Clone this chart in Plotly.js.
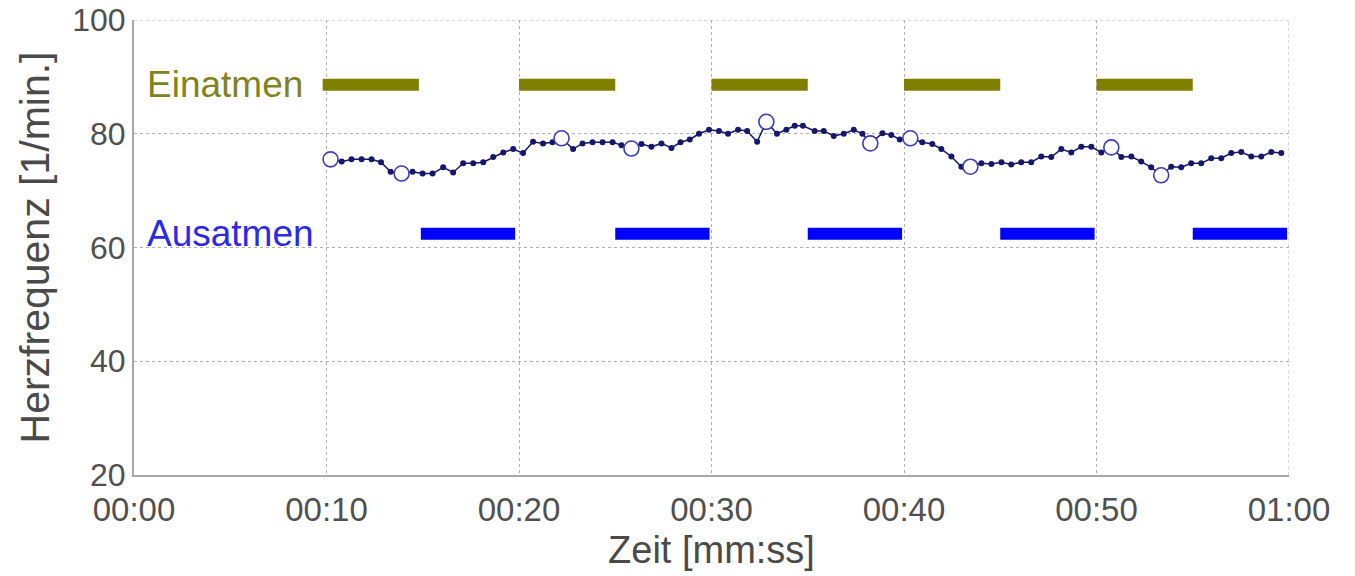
<!DOCTYPE html>
<html>
<head>
<meta charset="utf-8">
<script src="https://cdn.plot.ly/plotly-3.0.1.min.js"></script>
<style>html,body{margin:0;padding:0;background:#fff;}#chart{width:1355px;height:576px;}</style>
</head>
<body>
<div id="chart"></div>
<script>
// Heart rate samples (time in s, value in 1/min)
const hrTime = [10.21,10.79,11.30,11.82,12.34,12.83,13.33,13.90,14.47,14.99,15.51,16.06,16.58,17.10,17.62,18.14,18.66,19.18,19.70,20.21,20.73,21.25,21.74,22.21,22.81,23.30,23.82,24.34,24.86,25.32,25.84,26.36,26.88,27.40,27.92,28.39,28.87,29.35,29.87,30.39,30.86,31.38,31.85,32.37,32.85,33.40,33.89,34.32,34.75,35.36,35.83,36.35,36.87,37.39,37.84,38.25,38.88,39.34,39.78,40.33,40.95,41.47,41.94,42.46,42.98,43.45,44.02,44.54,45.06,45.57,46.09,46.61,47.13,47.65,48.17,48.69,49.21,49.73,50.25,50.77,51.29,51.81,52.32,52.84,53.36,53.88,54.40,54.92,55.44,55.96,56.48,57.00,57.52,58.04,58.56,59.08,59.60];
const hrValue = [75.5,75.1,75.5,75.5,75.5,75.0,73.3,73.0,73.3,73.0,73.0,74.1,73.2,74.8,74.8,75.0,75.9,76.7,77.3,76.6,78.6,78.3,78.5,79.2,77.3,78.3,78.5,78.5,78.5,78.0,77.4,78.2,77.7,78.3,77.5,78.5,79.0,80.0,80.7,80.5,80.0,80.7,80.5,78.6,82.1,80.0,80.7,81.4,81.4,80.5,80.5,79.6,80.0,80.7,80.0,78.3,80.1,79.8,79.0,79.2,78.5,78.2,77.3,76.0,74.2,74.2,74.8,74.7,75.0,74.6,75.0,75.0,76.0,75.9,77.3,76.7,77.7,77.7,76.7,77.6,75.9,76.0,75.1,74.1,72.7,74.2,74.1,74.8,74.8,75.7,75.7,76.6,76.8,76.0,76.0,76.8,76.6];

// Highlighted points (open circles)
const markTime = [10.21,13.90,22.21,25.84,32.85,38.25,40.33,43.45,50.77,53.36];
const markValue = [75.5,73.0,79.2,77.4,82.1,78.3,79.2,74.2,77.6,72.7];

// Breathing phases (start/end in s)
const inhaleStart = [9.8,20,30,40,50];
const inhaleEnd   = [14.8,25,35,45,55];
const exhaleStart = [14.9,25,35,45,55];
const exhaleEnd   = [19.8,29.9,39.9,49.9,59.9];
const inhaleLevel = 88.6;
const exhaleLevel = 62.4;

const xTickVals = [0,10,20,30,40,50,60];
const xTickText = ['00:00','00:10','00:20','00:30','00:40','00:50','01:00'];
const yTickVals = [20,40,60,80,100];

function segs(starts, ends, level) {
  const x = [], y = [];
  for (let i = 0; i < starts.length; i++) {
    x.push(starts[i], ends[i], null);
    y.push(level, level, null);
  }
  return {x, y};
}
const inh = segs(inhaleStart, inhaleEnd, inhaleLevel);
const exh = segs(exhaleStart, exhaleEnd, exhaleLevel);

const FONT = 'Liberation Sans, Arial, sans-serif';

const traces = [
  {x: inh.x, y: inh.y, mode: 'lines', line: {color: '#7f7f00', width: 12}, hoverinfo: 'skip', connectgaps: false},
  {x: exh.x, y: exh.y, mode: 'lines', line: {color: '#0000ff', width: 12}, hoverinfo: 'skip', connectgaps: false},
  {x: hrTime, y: hrValue, mode: 'lines+markers', line: {color: '#16166a', width: 1.5}, marker: {color: '#16166a', size: 6}},
  {x: markTime, y: markValue, mode: 'markers', marker: {symbol: 'circle', size: 15, color: '#ffffff', line: {color: '#3c3cb4', width: 1.6}}}
];

const layout = {
  width: 1355, height: 576,
  margin: {l: 134, r: 65.5, t: 20, b: 101},
  paper_bgcolor: '#ffffff', plot_bgcolor: '#ffffff',
  showlegend: false,
  font: {family: FONT, color: '#4a4a4a'},
  xaxis: {
    range: [0, 60], tickvals: xTickVals, ticktext: xTickText,
    showgrid: true, gridcolor: '#b0b0b0', griddash: 'dot', gridwidth: 1,
    showline: true, linecolor: '#a8a8a8', linewidth: 2,
    ticks: '', zeroline: false, ticklabelstandoff: 4,
    tickfont: {size: 33, color: '#505050', family: FONT},
    title: {text: 'Zeit [mm:ss]', font: {size: 38, color: '#4a4a4a', family: FONT}, standoff: 10}
  },
  yaxis: {
    range: [20, 100], tickvals: yTickVals,
    showgrid: true, gridcolor: '#b0b0b0', griddash: 'dot', gridwidth: 1,
    showline: true, linecolor: '#a8a8a8', linewidth: 2,
    ticks: '', zeroline: false,
    tickfont: {size: 32, color: '#505050', family: FONT},
    title: {text: 'Herzfrequenz [1/min.]', font: {size: 41, color: '#4a4a4a', family: FONT}, standoff: 10}
  },
  shapes: [
    {type: 'line', xref: 'paper', yref: 'y', x0: 0, x1: 1, y0: 100, y1: 100, line: {color: '#b0b0b0', width: 1, dash: 'dot'}, layer: 'below'},
    {type: 'line', xref: 'x', yref: 'paper', x0: 60, x1: 60, y0: 0, y1: 1, line: {color: '#b0b0b0', width: 1, dash: 'dot'}, layer: 'below'}
  ],
  annotations: [
    {x: 0.55, y: inhaleLevel, xref: 'x', yref: 'y', xanchor: 'left', yanchor: 'middle', text: 'Einatmen', showarrow: false, font: {size: 37, color: '#82821e', family: FONT}},
    {x: 0.55, y: exhaleLevel, xref: 'x', yref: 'y', xanchor: 'left', yanchor: 'middle', text: 'Ausatmen', showarrow: false, font: {size: 37, color: '#2a2ae6', family: FONT}}
  ]
};

Plotly.newPlot('chart', traces, layout, {staticPlot: true, displayModeBar: false});
</script>
</body>
</html>
